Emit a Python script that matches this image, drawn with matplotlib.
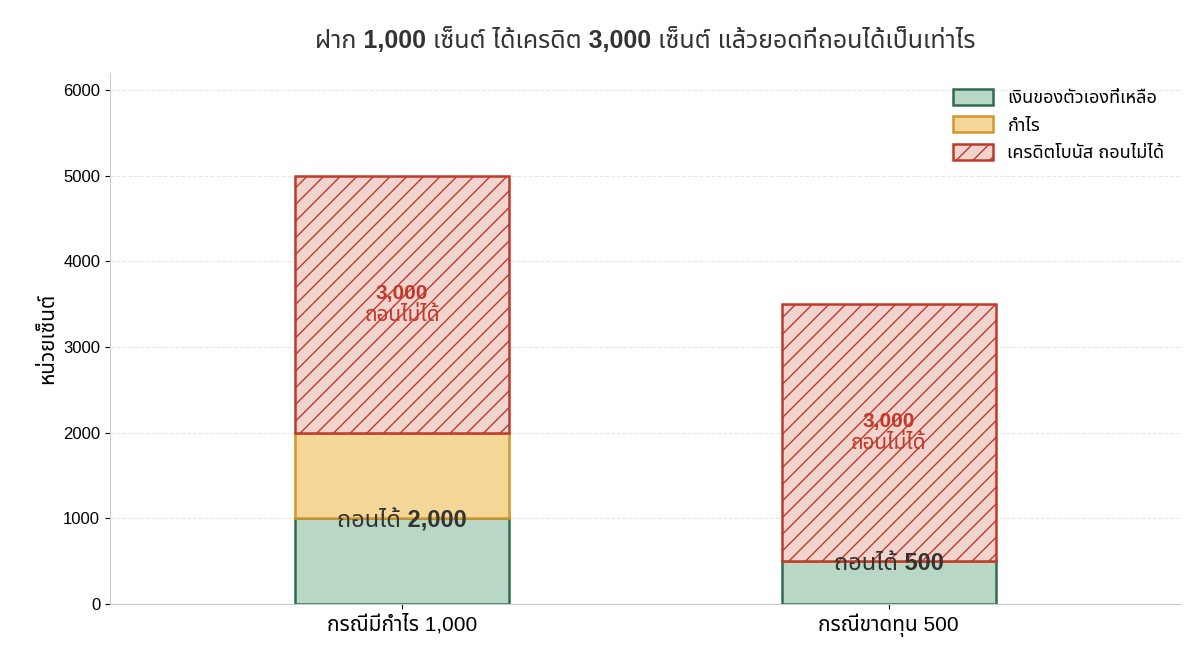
import matplotlib
matplotlib.use("Agg")
import matplotlib.pyplot as plt

plt.rcParams['font.family'] = ['Liberation Sans', 'Noto Sans Thai', 'DejaVu Sans']
plt.rcParams['hatch.color'] = "#c0392b"

CASES = ["กรณีมีกำไร 1,000", "กรณีขาดทุน 500"]
OWN = [1000, 500]
PROFIT = [1000, 0]
BONUS = [3000, 3000]
WITHDRAW = ["ถอนได้ 2,000", "ถอนได้ 500"]

fig, ax = plt.subplots(figsize=(11.95, 6.61), dpi=100)
x = [0, 1]
w = 0.44
ax.bar(x, OWN, w, color="#b8d8c5", edgecolor="#2e6b4f", lw=1.8, label="เงินของตัวเองที่เหลือ")
ax.bar(x, PROFIT, w, bottom=OWN, color="#f5d898", edgecolor="#d4952a", lw=1.8, label="กำไร")
base = [o + p for o, p in zip(OWN, PROFIT)]
ax.bar(x, BONUS, w, bottom=base, color="#f2d4cf", edgecolor="#c0392b", lw=1.8, hatch="//",
       label="เครดิตโบนัส ถอนไม่ได้")
for i in x:
    ax.text(i, base[i] + BONUS[i] / 2, f"{BONUS[i]:,}\nถอนไม่ได้", ha="center", va="center",
            fontsize=15, fontweight="bold", color="#c0392b", linespacing=1.2)
    ax.text(i, OWN[i] - 30, WITHDRAW[i], ha="center", va="center", fontsize=17, fontweight="bold",
            color="#333333")

ax.set_xlim(-0.6, 1.6)
ax.set_ylim(0, 6200)
ax.set_xticks(x)
ax.set_xticklabels(CASES, fontsize=15)
ax.tick_params(axis="y", labelsize=12)
ax.set_ylabel("หน่วยเซ็นต์", fontsize=15)
ax.grid(axis="y", ls="--", alpha=0.3)
ax.set_axisbelow(True)
for s in ["top", "right"]:
    ax.spines[s].set_visible(False)
for s in ["left", "bottom"]:
    ax.spines[s].set_color("#cccccc")
ax.set_title("ฝาก 1,000 เซ็นต์ ได้เครดิต 3,000 เซ็นต์ แล้วยอดที่ถอนได้เป็นเท่าไร",
             fontsize=18, fontweight="bold", color="#333333", pad=18)
ax.legend(frameon=False, fontsize=13, loc="upper right", handlelength=2.2, handleheight=1.0)
fig.subplots_adjust(left=0.092, right=0.988, bottom=0.086, top=0.89)
fig.savefig("out.png", dpi=100)
